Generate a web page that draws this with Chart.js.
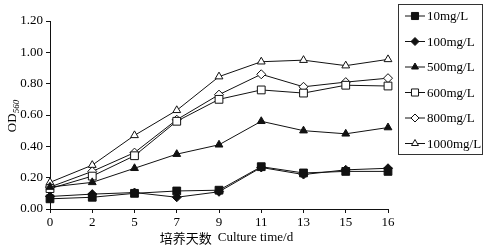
<!DOCTYPE html>
<html>
<head>
<meta charset="utf-8">
<script src="https://cdn.jsdelivr.net/npm/chart.js@4/dist/chart.umd.min.js"></script>
<style>
  html, body { margin: 0; padding: 0; background: #fff; }
  #wrap { width: 487px; height: 247px; position: relative; }
</style>
</head>
<body>
<div id="wrap"><canvas id="odChart" width="487" height="247"></canvas></div>
<script>
// Culture time (days) and OD560 per concentration
const days = ['0', '2', '5', '7', '9', '11', '13', '15', '16'];
const yTicks = [0, 0.2, 0.4, 0.6, 0.8, 1.0, 1.2];

const od10 = [0.065, 0.075, 0.10, 0.115, 0.12, 0.27, 0.23, 0.24, 0.24];
const od100 = [0.08, 0.095, 0.105, 0.075, 0.11, 0.265, 0.22, 0.25, 0.26];
const od500 = [0.14, 0.17, 0.26, 0.35, 0.41, 0.56, 0.50, 0.48, 0.52];
const od600 = [0.13, 0.21, 0.34, 0.56, 0.70, 0.76, 0.74, 0.79, 0.785];
const od800 = [0.14, 0.24, 0.36, 0.57, 0.73, 0.86, 0.78, 0.81, 0.835];
const od1000 = [0.17, 0.28, 0.47, 0.63, 0.845, 0.94, 0.95, 0.915, 0.955];

const serif = '"Liberation Serif", "Times New Roman", serif';

function series(label, data, style, filled, radius) {
  return {
    label: label,
    data: data,
    borderColor: '#111',
    borderWidth: 1,
    pointStyle: style,
    pointRadius: radius,
    pointBorderWidth: 1,
    pointBorderColor: '#111',
    pointBackgroundColor: filled ? '#111' : '#fff',
    tension: 0,
    fill: false
  };
}

const datasets = [
  series('10mg/L', od10, 'rect', true, 5.5),
  series('100mg/L', od100, 'rectRot', true, 4.5),
  series('500mg/L', od500, 'triangle', true, 4.5),
  series('600mg/L', od600, 'rect', false, 5.5),
  series('800mg/L', od800, 'rectRot', false, 4.5),
  series('1000mg/L', od1000, 'triangle', false, 4.5)
];

// boxed legend at the right, plus the two axis titles
const decor = {
  id: 'decor',
  afterDraw(chart) {
    const ctx = chart.ctx;
    ctx.save();
    // legend box
    ctx.strokeStyle = '#333';
    ctx.lineWidth = 1;
    ctx.strokeRect(398.5, 4.5, 84, 150);
    ctx.font = '13px ' + serif;
    ctx.textBaseline = 'middle';
    ctx.textAlign = 'left';
    chart.data.datasets.forEach((ds, i) => {
      const y = 16 + i * 25.5;
      ctx.strokeStyle = '#111';
      ctx.beginPath();
      ctx.moveTo(405, y);
      ctx.lineTo(425, y);
      ctx.stroke();
      ctx.fillStyle = ds.pointBackgroundColor;
      ctx.strokeStyle = '#111';
      Chart.helpers.drawPoint(ctx, {
        pointStyle: ds.pointStyle,
        radius: ds.pointRadius - 0.5,
        borderWidth: 1,
        rotation: 0
      }, 415, y);
      ctx.fillStyle = '#000';
      ctx.fillText(ds.label, 427, y + 1);
    });

    // x title
    ctx.fillStyle = '#000';
    ctx.textAlign = 'center';
    ctx.textBaseline = 'middle';
    ctx.font = '13px "Noto Sans CJK SC", sans-serif';
    const cn = '培养天数 ';
    ctx.font = '13px ' + serif;
    const en = 'Culture time/d';
    ctx.font = '13px "Noto Sans CJK SC", sans-serif';
    const wCn = ctx.measureText(cn).width;
    ctx.font = '13px ' + serif;
    const wEn = ctx.measureText(en).width;
    let x0 = 225 - (wCn + wEn) / 2;
    ctx.textAlign = 'left';
    ctx.font = '13px "Noto Sans CJK SC", sans-serif';
    ctx.fillText(cn, x0, 238);
    ctx.font = '13px ' + serif;
    ctx.fillText(en, x0 + wCn + 3, 238);

    // y title: OD with subscript 560, rotated
    ctx.translate(12, 116);
    ctx.rotate(-Math.PI / 2);
    ctx.font = '13px ' + serif;
    const wOD = ctx.measureText('OD').width;
    ctx.font = 'italic 9px ' + serif;
    const wSub = ctx.measureText('560').width;
    const sx = -(wOD + wSub) / 2;
    ctx.textAlign = 'left';
    ctx.textBaseline = 'alphabetic';
    ctx.font = '13px ' + serif;
    ctx.fillText('OD', sx, 4);
    ctx.font = 'italic 9px ' + serif;
    ctx.fillText('560', sx + wOD, 7);
    ctx.restore();
  }
};

new Chart(document.getElementById('odChart').getContext('2d'), {
  type: 'line',
  data: { labels: days, datasets: datasets },
  options: {
    responsive: false,
    animation: false,
    events: [],
    layout: { padding: { left: 0, right: 99, top: 21, bottom: 0 } },
    plugins: {
      legend: { display: false },
      tooltip: { enabled: false }
    },
    scales: {
      x: {
        type: 'category',
        offset: false,
        grid: { drawOnChartArea: false, drawTicks: true, tickLength: 4, color: '#111' },
        border: { color: '#111', width: 1 },
        ticks: { color: '#000', font: { family: serif, size: 13 }, padding: 2, maxRotation: 0, autoSkip: false },
        afterFit(scale) { scale.height = 38; }
      },
      y: {
        min: 0,
        max: 1.2,
        afterBuildTicks(scale) { scale.ticks = yTicks.map(v => ({ value: v })); },
        grid: { drawOnChartArea: false, drawTicks: true, tickLength: 4, color: '#111' },
        border: { color: '#111', width: 1 },
        ticks: {
          color: '#000',
          font: { family: serif, size: 13 },
          padding: 3,
          callback: v => Number(v).toFixed(2)
        },
        afterFit(scale) { scale.width = 50; }
      }
    }
  },
  plugins: [decor]
});
</script>
</body>
</html>
